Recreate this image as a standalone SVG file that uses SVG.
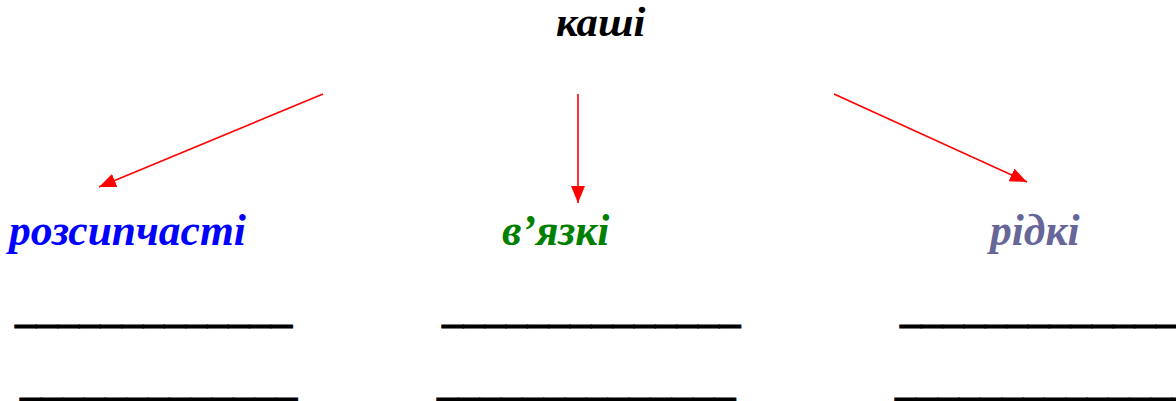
<svg xmlns="http://www.w3.org/2000/svg" width="1176" height="401" viewBox="0 0 1176 401">
<style>
.t{font-family:"Liberation Serif","Times New Roman",serif;font-weight:bold;font-style:italic;font-size:43.5px}
.r{font-family:"Liberation Serif","Times New Roman",serif;font-weight:bold;font-style:italic;font-size:42.67px;fill:#000}
.u{font-family:"Liberation Serif","Times New Roman",serif;font-weight:bold;font-size:42.67px;fill:#000;stroke:#000;stroke-width:0.8}
.c{stroke:#ff0000;stroke-width:1.6;fill:none;marker-end:url(#ah)}
</style>
<defs>
<marker id="ah" markerUnits="userSpaceOnUse" markerWidth="18" markerHeight="14" refX="17" refY="7" orient="auto" viewBox="0 0 18 14">
<path d="M0,0 L17,7 L0,14 Z" fill="#ff0000"/>
</marker>
</defs>
<rect width="1176" height="401" fill="#fff"/>
<g id="root"><text class="r" x="556" y="36">каші</text></g>
<g id="connectors">
<line class="c" x1="323" y1="94" x2="99" y2="187"/>
<line class="c" x1="578" y1="94" x2="578" y2="203"/>
<line class="c" x1="834" y1="94" x2="1027" y2="182"/>
</g>
<g id="n1"><text class="t" x="9" y="245" fill="#0000ff">розсипчасті</text></g>
<g id="n2"><text class="t" x="502" y="245" fill="#008000">в’язкі</text></g>
<g id="n3"><text class="t" x="990" y="245" fill="#666699">рідкі</text></g>
<g id="blanks">
<text class="u" x="15" y="322">_____________</text>
<text class="u" x="20" y="395">_____________</text>
<text class="u" x="442" y="322">______________</text>
<text class="u" x="437" y="395">______________</text>
<text class="u" x="900" y="322">______________</text>
<text class="u" x="895" y="395">______________</text>
</g>
</svg>
